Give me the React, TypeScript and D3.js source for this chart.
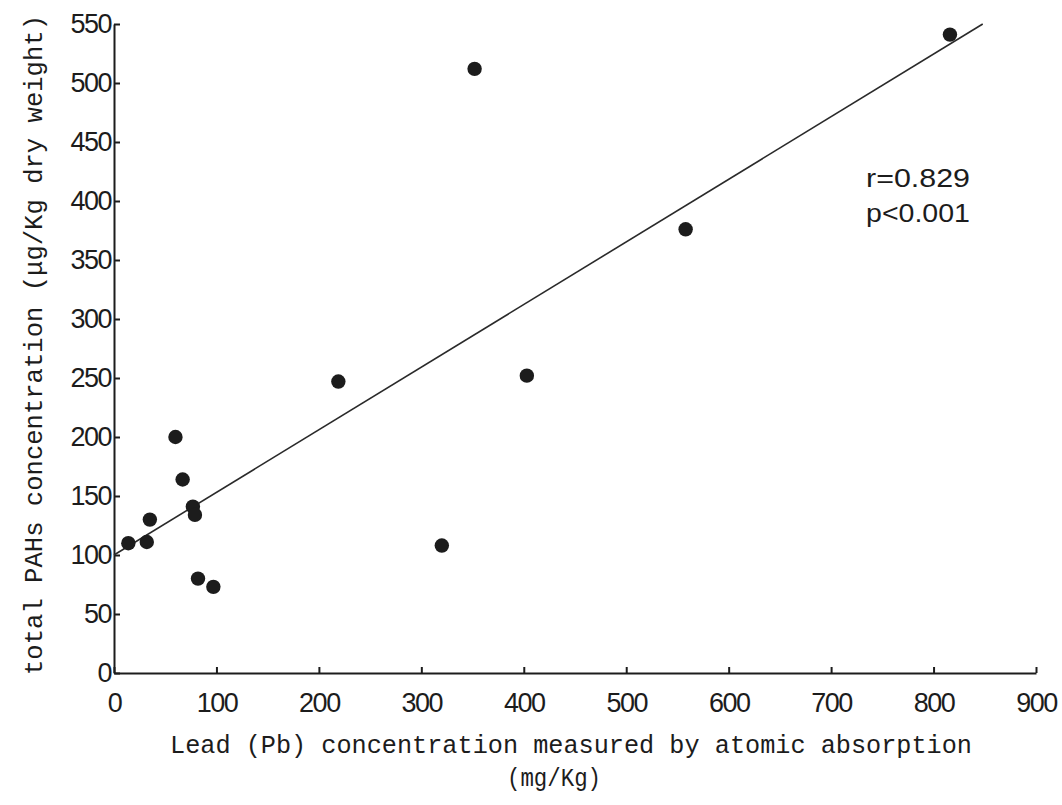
import * as d3 from "d3";
import React, { useEffect, useRef } from "react";

// Lead (Pb) vs total PAHs, one entry per sample
const pbValues = [14, 32, 35, 60, 67, 77, 79, 82, 97, 219, 320, 352, 403, 558, 816];
const pahValues = [110, 111, 130, 200, 164, 141, 134, 80, 73, 247, 108, 512, 252, 376, 541];

// regression line end points
const fitX = [0, 848];
const fitY = [100, 550];

const xTicks = [0, 100, 200, 300, 400, 500, 600, 700, 800, 900];
const yTicks = [0, 50, 100, 150, 200, 250, 300, 350, 400, 450, 500, 550];

const statsLines = ["r=0.829", "p<0.001"];
const xTitle = "Lead (Pb) concentration measured by atomic absorption";
const xUnit = "(mg/Kg)";
const yTitle = "total PAHs concentration (\u03bcg/Kg dry weight)";

const W = 1062;
const H = 805;

const App = () => {
    const svgRef = useRef<SVGSVGElement>(null);

    useEffect(() => {
        if (!svgRef.current) return;
        const svg = d3.select(svgRef.current);
        svg.selectAll("*").remove();

        const x = d3.scaleLinear().domain([0, 900]).range([114, 1036]);
        const y = d3.scaleLinear().domain([0, 550]).range([673, 24]);

        const ink = "#1c1c1c";
        const tickFont = "'Liberation Sans', Arial, sans-serif";
        const monoFont = "'Liberation Mono', 'DejaVu Sans Mono', monospace";

        // x axis, ticks pointing up into the plot
        const gx = svg.append("g")
            .attr("transform", `translate(0,${y(0)})`)
            .call(d3.axisBottom(x).tickValues(xTicks).tickSizeInner(-6).tickSizeOuter(0).tickPadding(20));

        // y axis, ticks pointing right into the plot
        const gy = svg.append("g")
            .attr("transform", `translate(${x(0)},0)`)
            .call(d3.axisLeft(y).tickValues(yTicks).tickSizeInner(-6).tickSizeOuter(0).tickPadding(3));

        [gx, gy].forEach(g => {
            g.select(".domain").attr("stroke", ink).attr("stroke-width", 2);
            g.selectAll(".tick line").attr("stroke", ink).attr("stroke-width", 2);
            g.selectAll(".tick text")
                .attr("fill", ink)
                .style("font-family", tickFont)
                .style("font-size", "27px")
                .style("letter-spacing", "-1.5px");
        });

        // fitted line
        svg.append("line")
            .attr("x1", x(fitX[0]))
            .attr("y1", y(fitY[0]))
            .attr("x2", x(fitX[1]))
            .attr("y2", y(fitY[1]))
            .attr("stroke", "#2a2a2a")
            .attr("stroke-width", 1.6);

        // samples
        svg.selectAll(".dot")
            .data(pbValues.map((v, i) => ({ pb: v, pah: pahValues[i] })))
            .enter()
            .append("circle")
            .attr("class", "dot")
            .attr("cx", d => x(d.pb))
            .attr("cy", d => y(d.pah))
            .attr("r", 7.2)
            .attr("fill", ink);

        // r / p annotation
        svg.selectAll(".stat")
            .data(statsLines)
            .enter()
            .append("text")
            .attr("class", "stat")
            .attr("x", 866)
            .attr("y", (d, i) => 187 + i * 35)
            .attr("textLength", 104)
            .attr("lengthAdjust", "spacingAndGlyphs")
            .style("font-family", tickFont)
            .style("font-size", "25px")
            .attr("fill", ink)
            .text(d => d);

        // axis titles
        svg.append("text")
            .attr("x", 170)
            .attr("y", 753)
            .attr("textLength", 802)
            .attr("lengthAdjust", "spacingAndGlyphs")
            .style("font-family", monoFont)
            .style("font-size", "25.5px")
            .attr("fill", ink)
            .text(xTitle);

        svg.append("text")
            .attr("x", 507)
            .attr("y", 786)
            .attr("textLength", 94)
            .attr("lengthAdjust", "spacingAndGlyphs")
            .style("font-family", monoFont)
            .style("font-size", "25.5px")
            .attr("fill", ink)
            .text(xUnit);

        svg.append("text")
            .attr("transform", `translate(42,675) rotate(-90)`)
            .attr("textLength", 660)
            .attr("lengthAdjust", "spacingAndGlyphs")
            .style("font-family", monoFont)
            .style("font-size", "25.5px")
            .attr("fill", ink)
            .text(yTitle);
    }, []);

    return (
        <svg
            ref={svgRef}
            width={W}
            height={H}
            style={{ position: "absolute", left: 0, top: 0, background: "#fff" }}
        />
    );
};

export default App;
